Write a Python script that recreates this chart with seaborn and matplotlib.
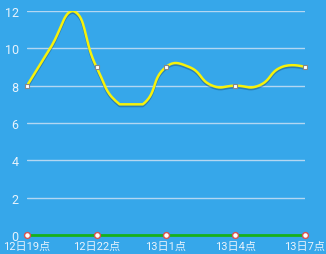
import numpy as np
import pandas as pd
import seaborn as sns
import matplotlib.pyplot as plt
from matplotlib import patheffects as pe

# hourly values, 12日19点 .. 13日7点
hours = ["12日19点", "12日20点", "12日21点", "12日22点", "12日23点", "13日0点", "13日1点",
         "13日2点", "13日3点", "13日4点", "13日5点", "13日6点", "13日7点"]
temp = [8, 10, 12, 9, 7, 7, 9, 9, 8, 8, 8, 9, 9]
rain = [0, 0, 0, 0, 0, 0, 0, 0, 0, 0, 0, 0, 0]
yticks = [0, 2, 4, 6, 8, 10, 12]
label_step = 3

bg = "#36a7ea"
sns.set_style("white")
plt.rcParams["font.family"] = ["Roboto", "Noto Sans CJK SC", "DejaVu Sans"]

fig = plt.figure(figsize=(3.26, 2.55), dpi=100, facecolor=bg)
ax = fig.add_axes([27 / 326, 19 / 255, 278 / 326, 224 / 255])
ax.set_facecolor(bg)

x = np.arange(len(hours))
df = pd.DataFrame({"x": x, "temp": temp, "rain": rain})

# echarts-like smoothed curve (bezier with control points clamped to data bbox)
def smooth_curve(xs, ys, smooth=0.5, n=20):
    xs = np.asarray(xs, float); ys = np.asarray(ys, float)
    sx, sy = 23.17, 18.67  # px per unit, for distance weighting
    px, py = xs * sx, ys * sy
    lo, hi = py.min(), py.max()
    cin, cout = [], []
    for i in range(len(px)):
        if i == 0 or i == len(px) - 1:
            cin.append((px[i], py[i])); cout.append((px[i], py[i])); continue
        vx, vy = px[i + 1] - px[i - 1], py[i + 1] - py[i - 1]
        d0 = np.hypot(px[i] - px[i - 1], py[i] - py[i - 1])
        d1 = np.hypot(px[i + 1] - px[i], py[i + 1] - py[i])
        r = d1 / (d0 + d1)
        cin.append((px[i] - vx * smooth * (1 - r), np.clip(py[i] - vy * smooth * (1 - r), lo, hi)))
        cout.append((px[i] + vx * smooth * r, np.clip(py[i] + vy * smooth * r, lo, hi)))
    t = np.linspace(0, 1, n)[:, None]
    pts = []
    for i in range(len(px) - 1):
        p0 = np.array([px[i], py[i]]); p3 = np.array([px[i + 1], py[i + 1]])
        p1 = np.array(cout[i]); p2 = np.array(cin[i + 1])
        b = (1 - t) ** 3 * p0 + 3 * (1 - t) ** 2 * t * p1 + 3 * (1 - t) * t ** 2 * p2 + t ** 3 * p3
        pts.append(b)
    pts = np.vstack(pts)
    return pts[:, 0] / sx, pts[:, 1] / sy

for v in yticks[1:]:
    ax.axhline(v, color="#b3d7f2", lw=1, zorder=1)

cx, cy = smooth_curve(x, temp)
sns.lineplot(x=cx, y=cy, sort=False, color="#f6f20a", lw=1.8, ax=ax, zorder=3,
             path_effects=[pe.SimpleLineShadow(offset=(0, -1.2), shadow_color="#1b4f7a", alpha=0.45),
                           pe.Normal()])
shown = df.iloc[::label_step]
sns.scatterplot(data=shown, x="x", y="temp", marker="s", s=12, color="white",
                edgecolor="#888888", linewidth=0.8, ax=ax, zorder=4, clip_on=False)

sns.lineplot(data=df, x="x", y="rain", color="#17b01a", lw=2, ax=ax, zorder=3, clip_on=False)
sns.scatterplot(data=shown, x="x", y="rain", marker="o", s=18, color="white",
                edgecolor="#d9534f", linewidth=1, ax=ax, zorder=4, clip_on=False)

ax.set_xlim(0, len(hours) - 1)
ax.set_ylim(0, 12)
ax.set_xticks(x[::label_step])
ax.set_xticklabels(hours[::label_step])
ax.set_yticks(yticks)
ax.tick_params(axis="x", colors="#e8f3fc", labelsize=8, length=3, width=0.8, pad=1, direction="out")
ax.tick_params(axis="y", colors="#e8f3fc", labelsize=9, length=0, pad=6)
for lab in ax.get_yticklabels():
    lab.set_verticalalignment("center_baseline")
ax.set_xlabel("")
ax.set_ylabel("")
for s in ax.spines.values():
    s.set_visible(False)

fig.savefig("out.png", dpi=100, facecolor=bg)
